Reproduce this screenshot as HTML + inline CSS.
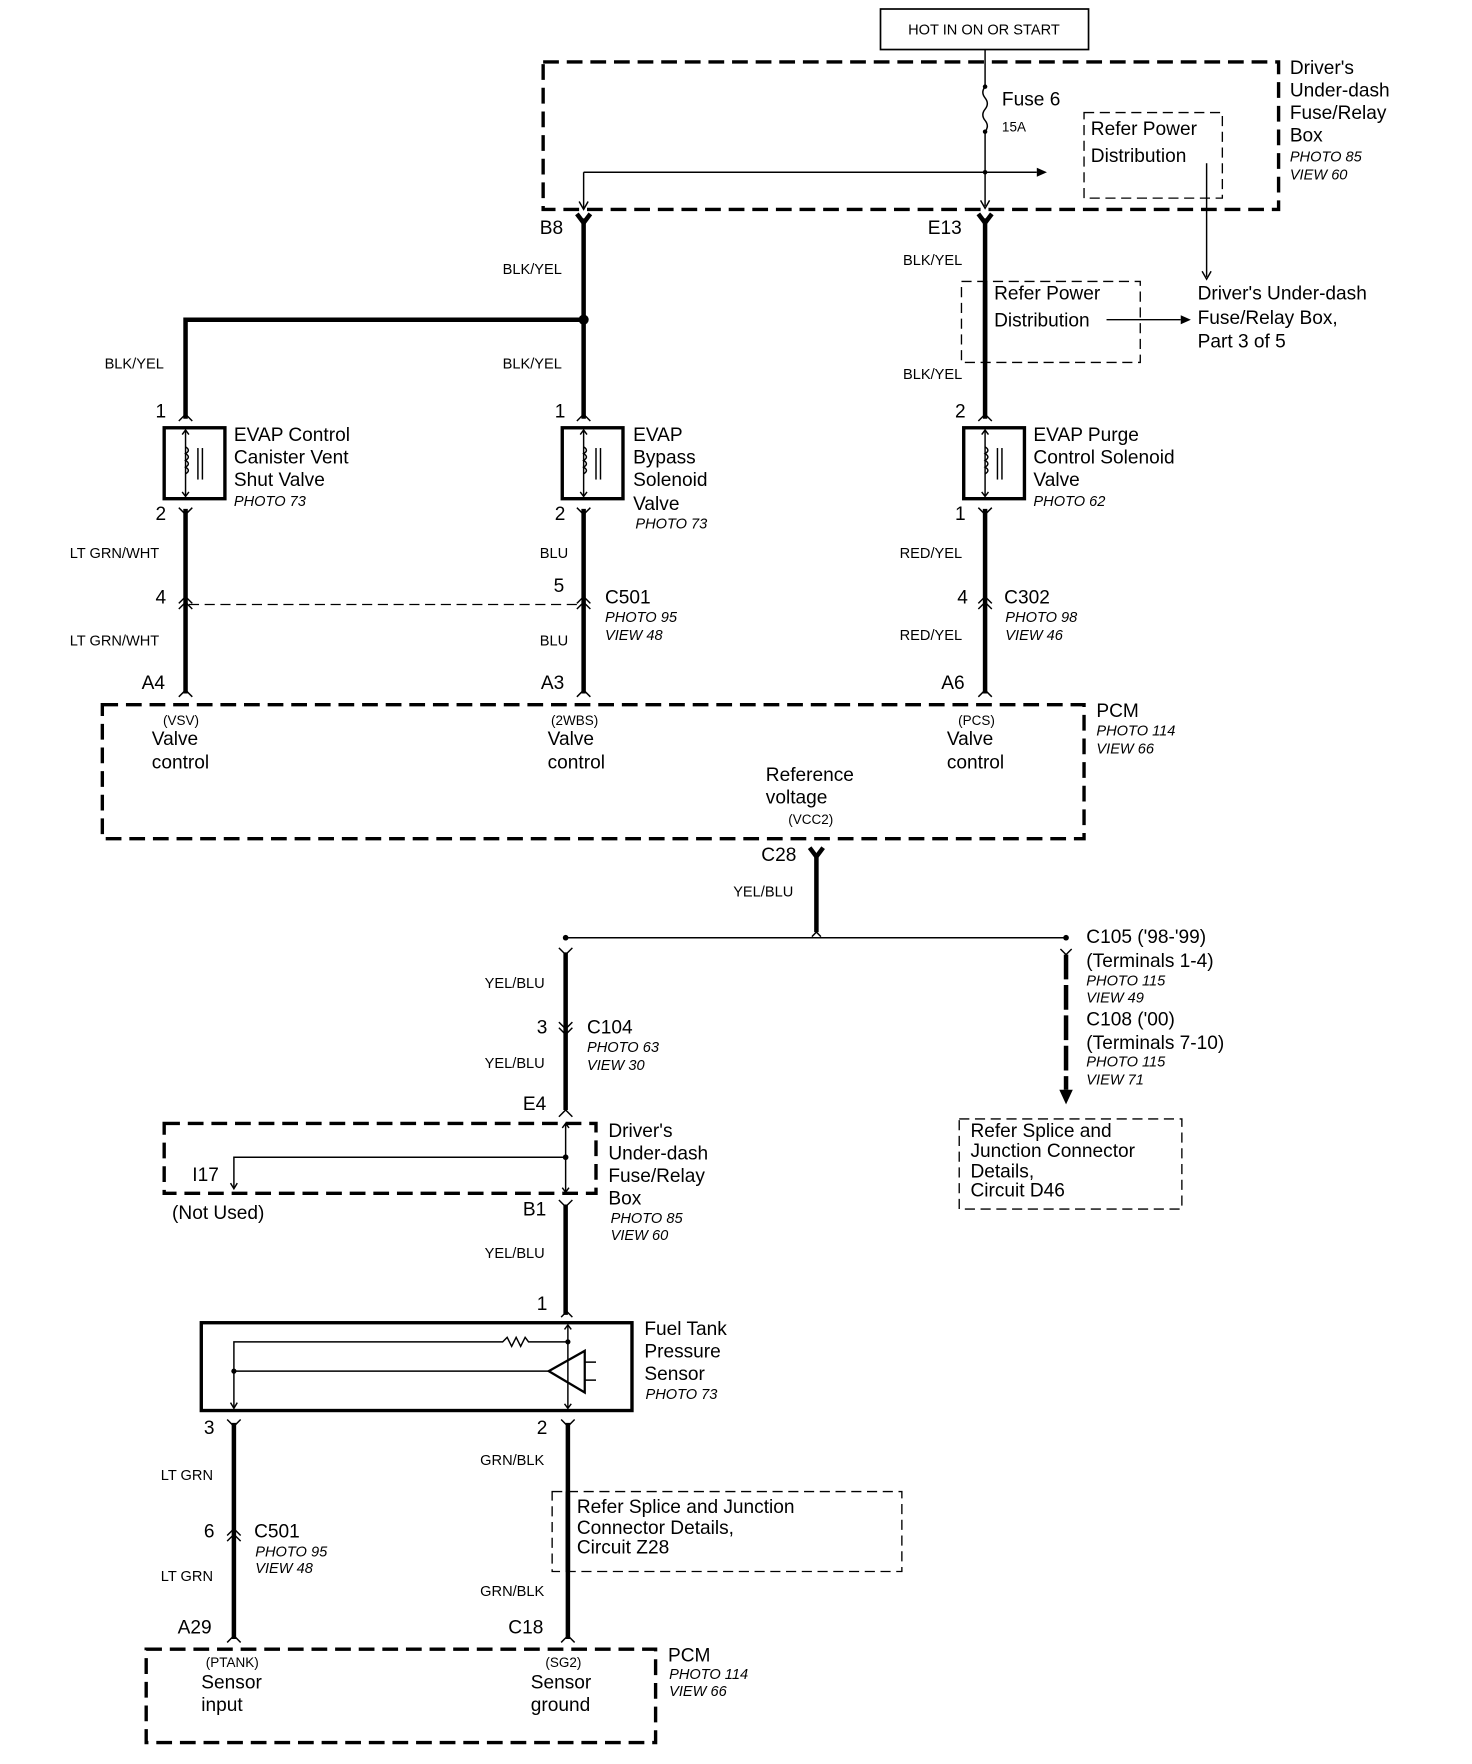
<!DOCTYPE html>
<html><head><meta charset="utf-8"><style>
html,body{margin:0;padding:0;background:#fff}
svg{display:block}
text{font-family:"Liberation Sans",Arial,sans-serif;fill:#000;dominant-baseline:central}
.l{font-size:17px}.s{font-size:13px}.i{font-size:13px;font-style:italic}.t{font-size:12px}
.w{stroke:#000;stroke-width:4;fill:none}
.n{stroke:#000;stroke-width:1.3;fill:none}
.d{stroke:#000;stroke-width:3;fill:none;stroke-dasharray:14 7}
.td{stroke:#000;stroke-width:1.2;fill:none;stroke-dasharray:9 5}
</style></head><body>
<svg width="1472" height="1764" viewBox="0 0 1309 1567" preserveAspectRatio="none" xmlns="http://www.w3.org/2000/svg">
<rect width="1320" height="1580" fill="#fff"/>
<rect x="783" y="8" width="185" height="36" fill="none" stroke="#000" stroke-width="1.5"/>
<text x="875" y="27" class="s" text-anchor="middle">HOT IN ON OR START</text>
<line x1="876" y1="44" x2="876" y2="77" class="n"/>
<path d="M876 77 q-4 5 0 10 q4 5 0 10 q-4 5 0 10 q4 5 0 10" class="n"/>
<circle cx="876" cy="77" r="2"/><circle cx="876" cy="117" r="2"/>
<line x1="876" y1="117" x2="876" y2="183" class="n"/>
<path d="M872 178 l4 7 l4 -7" class="n"/>
<text x="891" y="89" class="l">Fuse 6</text>
<text x="891" y="113" class="t">15A</text>
<rect x="483" y="55" width="654" height="131" class="d"/>
<rect x="964" y="100" width="123" height="76" class="td"/>
<text x="970" y="115" class="l">Refer Power</text>
<text x="970" y="139" class="l">Distribution</text>
<line x1="1073" y1="145" x2="1073" y2="246" class="n"/>
<path d="M1069 241 l4 7 l4 -7" class="n"/>
<line x1="519" y1="153" x2="922" y2="153" class="n"/>
<path d="M922 149 l9 4 l-9 4z"/>
<line x1="519" y1="153" x2="519" y2="185" class="n"/>
<path d="M515 179 l4 7 l4 -7" class="n"/>
<circle cx="876" cy="153" r="2"/>
<text x="1147" y="61" class="l">Driver's</text>
<text x="1147" y="81" class="l">Under-dash</text>
<text x="1147" y="101" class="l">Fuse/Relay</text>
<text x="1147" y="121" class="l">Box</text>
<text x="1147" y="140" class="i">PHOTO 85</text>
<text x="1147" y="156" class="i">VIEW 60</text>

<line x1="519" y1="194" x2="519" y2="372" class="w"/>
<path d="M513 190 l6 8 l6 -8" class="w" stroke-width="2.5"/>
<text x="480" y="203" class="l">B8</text>
<text x="447" y="240" class="s">BLK/YEL</text>
<circle cx="519" cy="284" r="4.5"/>
<polyline points="519,284 165,284 165,372" class="w"/>
<text x="93" y="324" class="s">BLK/YEL</text>
<text x="447" y="324" class="s">BLK/YEL</text>
<line x1="876" y1="194" x2="876" y2="372" class="w"/>
<path d="M870 190 l6 8 l6 -8" class="w" stroke-width="2.5"/>
<text x="825" y="203" class="l">E13</text>
<text x="803" y="232" class="s">BLK/YEL</text>
<text x="803" y="333" class="s">BLK/YEL</text>
<rect x="855" y="250" width="159" height="72" class="td" fill="#fff"/>
<line x1="876" y1="250" x2="876" y2="322" class="w"/>
<text x="884" y="261" class="l">Refer Power</text>
<text x="884" y="285" class="l">Distribution</text>
<line x1="984" y1="284" x2="1050" y2="284" class="n"/>
<path d="M1050 280 l9 4 l-9 4z"/>
<text x="1065" y="261" class="l">Driver's Under-dash</text>
<text x="1065" y="283" class="l">Fuse/Relay Box,</text>
<text x="1065" y="304" class="l">Part 3 of 5</text>

<g id="sol">
<path d="M159 374 l6 -6 l6 6" class="n" stroke-width="2.5"/>
<rect x="146" y="380" width="54" height="63" fill="none" stroke="#000" stroke-width="3"/>
<line x1="165" y1="382" x2="165" y2="441" class="n" stroke-width="1"/>
<path d="M162 386 l3 -4 l3 4 M162 437 l3 4 l3 -4" class="n" stroke-width="1"/>
<path d="M165 397 q5 3 0 6 q5 3 0 6 q5 3 0 6 q5 3 0 6" class="n"/>
<line x1="176" y1="398" x2="176" y2="426" class="n"/><line x1="180" y1="398" x2="180" y2="426" class="n"/>
<path d="M159 451 l6 6 l6 -6" class="n" stroke-width="2.5"/>
</g>
<use href="#sol" x="354"/>
<use href="#sol" x="711"/>
<text x="143" y="366" class="l" text-anchor="middle">1</text>
<text x="498" y="366" class="l" text-anchor="middle">1</text>
<text x="854" y="366" class="l" text-anchor="middle">2</text>
<text x="143" y="457" class="l" text-anchor="middle">2</text>
<text x="498" y="457" class="l" text-anchor="middle">2</text>
<text x="854" y="457" class="l" text-anchor="middle">1</text>
<text x="208" y="387" class="l">EVAP Control</text>
<text x="208" y="407" class="l">Canister Vent</text>
<text x="208" y="427" class="l">Shut Valve</text>
<text x="208" y="446" class="i">PHOTO 73</text>
<text x="563" y="387" class="l">EVAP</text>
<text x="563" y="407" class="l">Bypass</text>
<text x="563" y="427" class="l">Solenoid</text>
<text x="563" y="448" class="l">Valve</text>
<text x="565" y="466" class="i">PHOTO 73</text>
<text x="919" y="387" class="l">EVAP Purge</text>
<text x="919" y="407" class="l">Control Solenoid</text>
<text x="919" y="427" class="l">Valve</text>
<text x="919" y="446" class="i">PHOTO 62</text>

<line x1="165" y1="452" x2="165" y2="616" class="w"/>
<line x1="519" y1="452" x2="519" y2="616" class="w"/>
<line x1="876" y1="452" x2="876" y2="616" class="w"/>
<text x="62" y="492" class="s">LT GRN/WHT</text>
<text x="480" y="492" class="s">BLU</text>
<text x="800" y="492" class="s">RED/YEL</text>
<g class="n" stroke-width="2">
<path d="M159 536 l6 -6 l6 6 M159 541 l6 -6 l6 6"/>
<path d="M513 536 l6 -6 l6 6 M513 541 l6 -6 l6 6"/>
<path d="M870 536 l6 -6 l6 6 M870 541 l6 -6 l6 6"/>
</g>
<line x1="168" y1="537" x2="516" y2="537" class="td"/>
<text x="143" y="531" class="l" text-anchor="middle">4</text>
<text x="497" y="521" class="l" text-anchor="middle">5</text>
<text x="538" y="531" class="l">C501</text>
<text x="538" y="549" class="i">PHOTO 95</text>
<text x="538" y="565" class="i">VIEW 48</text>
<text x="856" y="531" class="l" text-anchor="middle">4</text>
<text x="893" y="531" class="l">C302</text>
<text x="894" y="549" class="i">PHOTO 98</text>
<text x="894" y="565" class="i">VIEW 46</text>
<text x="62" y="570" class="s">LT GRN/WHT</text>
<text x="480" y="570" class="s">BLU</text>
<text x="800" y="565" class="s">RED/YEL</text>
<text x="126" y="607" class="l">A4</text>
<text x="481" y="607" class="l">A3</text>
<text x="837" y="607" class="l">A6</text>
<path d="M159 619 l6 -6 l6 6 M513 619 l6 -6 l6 6 M870 619 l6 -6 l6 6" class="n" stroke-width="2.5"/>

<rect x="91" y="626" width="873" height="119" class="d"/>
<text x="975" y="632" class="l">PCM</text>
<text x="975" y="650" class="i">PHOTO 114</text>
<text x="975" y="666" class="i">VIEW 66</text>
<text x="145" y="640" class="t">(VSV)</text>
<text x="135" y="657" class="l">Valve</text>
<text x="135" y="678" class="l">control</text>
<text x="490" y="640" class="t">(2WBS)</text>
<text x="487" y="657" class="l">Valve</text>
<text x="487" y="678" class="l">control</text>
<text x="852" y="640" class="t">(PCS)</text>
<text x="842" y="657" class="l">Valve</text>
<text x="842" y="678" class="l">control</text>
<text x="681" y="689" class="l">Reference</text>
<text x="681" y="709" class="l">voltage</text>
<text x="701" y="728" class="t">(VCC2)</text>

<text x="677" y="760" class="l">C28</text>
<path d="M720 753 l6 8 l6 -8" class="w" stroke-width="2.5"/>
<line x1="726" y1="758" x2="726" y2="828" class="w"/>
<text x="652" y="793" class="s">YEL/BLU</text>
<line x1="503" y1="833" x2="948" y2="833" class="n"/>
<circle cx="503" cy="833" r="2.5"/><circle cx="948" cy="833" r="2.5"/>
<path d="M722 832 l4 -4 l4 4" class="n"/>
<path d="M943 843 l5 5 l5 -5" class="n" stroke-width="2"/>
<line x1="948" y1="848" x2="948" y2="968" class="w" stroke-dasharray="22 5"/>
<path d="M942 968 l6 13 l6 -13z"/>
<text x="966" y="833" class="l">C105 ('98-'99)</text>
<text x="966" y="854" class="l">(Terminals 1-4)</text>
<text x="966" y="872" class="i">PHOTO 115</text>
<text x="966" y="887" class="i">VIEW 49</text>
<text x="966" y="906" class="l">C108 ('00)</text>
<text x="966" y="927" class="l">(Terminals 7-10)</text>
<text x="966" y="944" class="i">PHOTO 115</text>
<text x="966" y="960" class="i">VIEW 71</text>
<rect x="853" y="994" width="198" height="80" class="td"/>
<text x="863" y="1005" class="l">Refer Splice and</text>
<text x="863" y="1023" class="l">Junction Connector</text>
<text x="863" y="1041" class="l">Details,</text>
<text x="863" y="1058" class="l">Circuit D46</text>
<path d="M497 842 l6 6 l6 -6" class="n" stroke-width="2.5"/>
<line x1="503" y1="846" x2="503" y2="986" class="w"/>
<path d="M497 908 l6 6 l6 -6 M497 913 l6 6 l6 -6" class="n" stroke-width="2"/>
<text x="431" y="874" class="s">YEL/BLU</text>
<text x="482" y="913" class="l" text-anchor="middle">3</text>
<text x="522" y="913" class="l">C104</text>
<text x="522" y="931" class="i">PHOTO 63</text>
<text x="522" y="947" class="i">VIEW 30</text>
<text x="431" y="945" class="s">YEL/BLU</text>
<text x="465" y="981" class="l">E4</text>
<path d="M497 992 l6 -6 l6 6" class="n" stroke-width="2.5"/>
<rect x="146" y="998" width="384" height="62" class="d"/>
<line x1="503" y1="998" x2="503" y2="1059" class="n"/>
<path d="M500 1002 l3 -4 l3 4 M500 1055 l3 4 l3 -4" class="n"/>
<polyline points="503,1028 208,1028 208,1055" class="n"/>
<path d="M205 1051 l3 5 l3 -5" class="n"/>
<circle cx="503" cy="1028" r="2.5"/>
<text x="171" y="1044" class="l">I17</text>
<text x="153" y="1078" class="l">(Not Used)</text>
<text x="541" y="1005" class="l">Driver's</text>
<text x="541" y="1025" class="l">Under-dash</text>
<text x="541" y="1045" class="l">Fuse/Relay</text>
<text x="541" y="1065" class="l">Box</text>
<text x="543" y="1083" class="i">PHOTO 85</text>
<text x="543" y="1098" class="i">VIEW 60</text>
<text x="465" y="1075" class="l">B1</text>
<path d="M497 1066 l6 6 l6 -6" class="n" stroke-width="2.5"/>
<line x1="503" y1="1070" x2="503" y2="1168" class="w"/>
<text x="431" y="1114" class="s">YEL/BLU</text>
<text x="482" y="1159" class="l" text-anchor="middle">1</text>
<path d="M499 1170 l5 -5 l5 5" class="n" stroke-width="2.5"/>

<rect x="179" y="1175" width="383" height="78" fill="none" stroke="#000" stroke-width="3"/>
<line x1="505" y1="1177" x2="505" y2="1251" class="n"/>
<path d="M502 1181 l3 -4 l3 4 M502 1247 l3 4 l3 -4" class="n"/>
<polyline points="505,1192 470,1192 467,1188 463,1196 459,1188 455,1196 451,1188 447,1192 208,1192 208,1250" class="n"/>
<path d="M205 1246 l3 5 l3 -5" class="n"/>
<circle cx="505" cy="1192" r="2.3"/>
<line x1="208" y1="1218" x2="488" y2="1218" class="n"/>
<circle cx="208" cy="1218" r="2.3"/>
<path d="M488 1218 L520 1200 L520 1237 Z" fill="none" stroke="#000" stroke-width="2"/>
<path d="M520 1210 h10 M520 1226 h10" class="n"/>
<text x="573" y="1181" class="l">Fuel Tank</text>
<text x="573" y="1201" class="l">Pressure</text>
<text x="573" y="1221" class="l">Sensor</text>
<text x="574" y="1239" class="i">PHOTO 73</text>
<text x="186" y="1269" class="l" text-anchor="middle">3</text>
<text x="482" y="1269" class="l" text-anchor="middle">2</text>
<path d="M202 1261 l6 6 l6 -6 M499 1261 l6 6 l6 -6" class="n" stroke-width="2.5"/>
<line x1="208" y1="1264" x2="208" y2="1456" class="w"/>
<line x1="505" y1="1264" x2="505" y2="1456" class="w"/>
<text x="143" y="1311" class="s">LT GRN</text>
<text x="427" y="1298" class="s">GRN/BLK</text>
<path d="M202 1364 l6 -6 l6 6 M202 1369 l6 -6 l6 6" class="n" stroke-width="2"/>
<text x="186" y="1361" class="l" text-anchor="middle">6</text>
<text x="226" y="1361" class="l">C501</text>
<text x="227" y="1379" class="i">PHOTO 95</text>
<text x="227" y="1394" class="i">VIEW 48</text>
<text x="143" y="1401" class="s">LT GRN</text>
<rect x="491" y="1325" width="311" height="71" class="td"/>
<line x1="505" y1="1325" x2="505" y2="1396" class="w"/>
<text x="513" y="1339" class="l">Refer Splice and Junction</text>
<text x="513" y="1358" class="l">Connector Details,</text>
<text x="513" y="1375" class="l">Circuit Z28</text>
<text x="427" y="1414" class="s">GRN/BLK</text>
<text x="158" y="1446" class="l">A29</text>
<text x="452" y="1446" class="l">C18</text>
<path d="M202 1459 l6 -6 l6 6 M499 1459 l6 -6 l6 6" class="n" stroke-width="2.5"/>
<rect x="130" y="1465" width="453" height="83" class="d"/>
<text x="594" y="1471" class="l">PCM</text>
<text x="595" y="1488" class="i">PHOTO 114</text>
<text x="595" y="1503" class="i">VIEW 66</text>
<text x="183" y="1477" class="t">(PTANK)</text>
<text x="179" y="1495" class="l">Sensor</text>
<text x="179" y="1515" class="l">input</text>
<text x="485" y="1477" class="t">(SG2)</text>
<text x="472" y="1495" class="l">Sensor</text>
<text x="472" y="1515" class="l">ground</text>
</svg>
</body></html>
